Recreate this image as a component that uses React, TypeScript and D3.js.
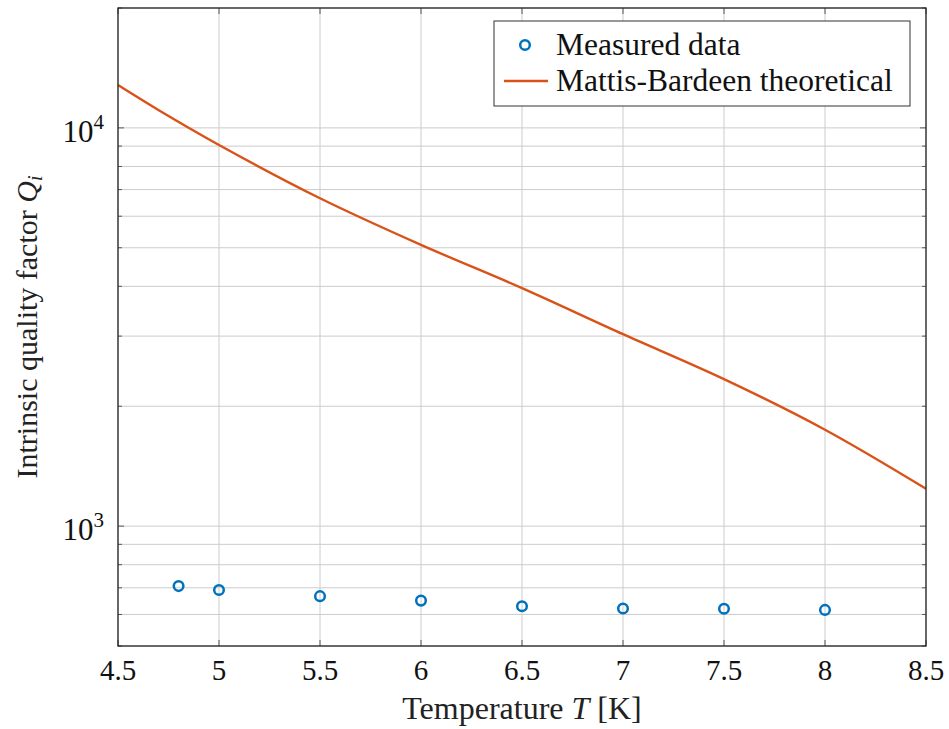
import React, { useEffect, useRef } from "react";
import * as d3 from "d3";

// measured points (temperature in K, Qi)
const measuredT = [4.8, 5.0, 5.5, 6.0, 6.5, 7.0, 7.5, 8.0];
const measuredQ = [707, 691, 667, 650, 629, 621, 620, 616];

// Mattis-Bardeen curve
const theoryT = [4.5, 4.7, 5.0, 5.5, 6.0, 6.5, 7.0, 7.5, 8.0, 8.5];
const theoryQ = [12810, 11090, 9060, 6658, 5085, 3959, 3034, 2339, 1746, 1241];

const xTicks = [4.5, 5, 5.5, 6, 6.5, 7, 7.5, 8, 8.5];
const xTickLabels = ["4.5", "5", "5.5", "6", "6.5", "7", "7.5", "8", "8.5"];
const yMajor = [1000, 10000];
const yMinor = [500, 600, 700, 800, 900, 2000, 3000, 4000, 5000, 6000, 7000, 8000, 9000, 20000];

const blue = "#0072BD";
const orange = "#D95319";
const serif = "'Liberation Serif', 'DejaVu Serif', serif";

export default function App() {
  const ref = useRef<SVGSVGElement>(null);

  useEffect(() => {
    const width = 949,
      height = 729;
    const margin = { top: 8, right: 23, bottom: 83, left: 118 };
    const svg = d3.select(ref.current);
    svg.selectAll("*").remove();

    const x = d3
      .scaleLinear()
      .domain([4.5, 8.5])
      .range([margin.left, width - margin.right]);
    const y = d3
      .scaleLog()
      .domain([500, 20000])
      .range([height - margin.bottom, margin.top]);

    const x0 = margin.left,
      x1 = width - margin.right,
      y0 = height - margin.bottom,
      y1 = margin.top;

    // grid
    const grid = svg.append("g").attr("stroke", "#cccccc").attr("stroke-width", 1);
    grid
      .selectAll("line.v")
      .data(xTicks)
      .enter()
      .append("line")
      .attr("x1", (d) => x(d))
      .attr("x2", (d) => x(d))
      .attr("y1", y1)
      .attr("y2", y0);
    grid
      .selectAll("line.h")
      .data(yMajor.concat(yMinor))
      .enter()
      .append("line")
      .attr("x1", x0)
      .attr("x2", x1)
      .attr("y1", (d) => y(d))
      .attr("y2", (d) => y(d));

    // inner ticks
    const ticks = svg.append("g").attr("stroke", "#5a5a5a").attr("stroke-width", 1);
    xTicks.forEach((t) => {
      ticks.append("line").attr("x1", x(t)).attr("x2", x(t)).attr("y1", y0).attr("y2", y0 - 6);
      ticks.append("line").attr("x1", x(t)).attr("x2", x(t)).attr("y1", y1).attr("y2", y1 + 6);
    });
    yMajor.concat(yMinor).forEach((t) => {
      const len = yMajor.includes(t) ? 6 : 4;
      ticks.append("line").attr("x1", x0).attr("x2", x0 + len).attr("y1", y(t)).attr("y2", y(t));
      ticks.append("line").attr("x1", x1).attr("x2", x1 - len).attr("y1", y(t)).attr("y2", y(t));
    });

    // theory line
    const line = d3
      .line<number>()
      .x((d, i) => x(theoryT[i]))
      .y((d) => y(d))
      .curve(d3.curveCatmullRom);
    svg
      .append("path")
      .datum(theoryQ)
      .attr("d", line)
      .attr("fill", "none")
      .attr("stroke", orange)
      .attr("stroke-width", 2.4);

    // measured points
    svg
      .append("g")
      .selectAll("circle")
      .data(measuredQ)
      .enter()
      .append("circle")
      .attr("cx", (d, i) => x(measuredT[i]))
      .attr("cy", (d) => y(d))
      .attr("r", 4.8)
      .attr("fill", "none")
      .attr("stroke", blue)
      .attr("stroke-width", 2.5);

    // axes box
    svg
      .append("rect")
      .attr("x", x0)
      .attr("y", y1)
      .attr("width", x1 - x0)
      .attr("height", y0 - y1)
      .attr("fill", "none")
      .attr("stroke", "#262626")
      .attr("stroke-width", 1.3);

    // x tick labels
    svg
      .append("g")
      .selectAll("text")
      .data(xTicks)
      .enter()
      .append("text")
      .attr("x", (d) => x(d))
      .attr("y", 680)
      .attr("text-anchor", "middle")
      .attr("font-family", serif)
      .attr("font-size", 29)
      .attr("fill", "#111")
      .text((d, i) => xTickLabels[i]);

    // y tick labels 10^3, 10^4
    yMajor.forEach((v) => {
      const t = svg
        .append("text")
        .attr("x", 104)
        .attr("y", y(v) + 14)
        .attr("text-anchor", "end")
        .attr("font-family", serif)
        .attr("font-size", 31)
        .attr("fill", "#111");
      t.append("tspan").text("10");
      t.append("tspan")
        .attr("dy", -13)
        .attr("font-size", 21)
        .text(String(Math.round(Math.log10(v))));
    });

    // axis labels
    const xl = svg
      .append("text")
      .attr("x", (x0 + x1) / 2)
      .attr("y", 719)
      .attr("text-anchor", "middle")
      .attr("font-family", serif)
      .attr("font-size", 32)
      .attr("fill", "#222");
    xl.append("tspan").text("Temperature ");
    xl.append("tspan").attr("font-style", "italic").text("T");
    xl.append("tspan").text(" [K]");

    const yl = svg
      .append("text")
      .attr("transform", `translate(37, ${(y0 + y1) / 2}) rotate(-90)`)
      .attr("text-anchor", "middle")
      .attr("font-family", serif)
      .attr("font-size", 30)
      .attr("fill", "#222");
    yl.append("tspan").text("Intrinsic quality factor ");
    yl.append("tspan").attr("font-style", "italic").text("Q");
    yl.append("tspan").attr("font-style", "italic").attr("font-size", 20).attr("dy", 5).text("i");

    // legend
    const lg = svg.append("g");
    lg.append("rect")
      .attr("x", 494)
      .attr("y", 21)
      .attr("width", 416)
      .attr("height", 85)
      .attr("fill", "white")
      .attr("stroke", "#333")
      .attr("stroke-width", 1);
    lg.append("circle")
      .attr("cx", 525)
      .attr("cy", 45)
      .attr("r", 4.8)
      .attr("fill", "none")
      .attr("stroke", blue)
      .attr("stroke-width", 2.5);
    lg.append("line")
      .attr("x1", 504)
      .attr("x2", 548)
      .attr("y1", 81)
      .attr("y2", 81)
      .attr("stroke", orange)
      .attr("stroke-width", 2.4);
    lg.append("text")
      .attr("x", 556)
      .attr("y", 55)
      .attr("font-family", serif)
      .attr("font-size", 31.5)
      .attr("fill", "#111")
      .text("Measured data");
    lg.append("text")
      .attr("x", 556)
      .attr("y", 91)
      .attr("font-family", serif)
      .attr("font-size", 31.5)
      .attr("fill", "#111")
      .text("Mattis-Bardeen theoretical");
  }, []);

  return (
    <svg
      ref={ref}
      width={949}
      height={729}
      style={{ position: "absolute", left: 0, top: 0, background: "white" }}
    />
  );
}
